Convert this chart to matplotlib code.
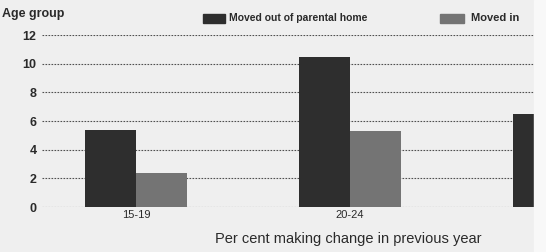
import matplotlib.pyplot as plt
import numpy as np
from matplotlib.patches import Rectangle

# values (right side is cut off in the original)
age_groups = ["15-19", "20-24", "25-29"]
moved_out = [5.4, 10.5, 6.5]
moved_in = [2.4, 5.3, np.nan]
y_ticks = [0, 2, 4, 6, 8, 10, 12]

dark = "#2e2e2e"
light = "#747474"
bg = "#efefef"
txt = "#2a2a2a"

plt.rcParams["font.family"] = ["Liberation Sans", "DejaVu Sans"]

fig = plt.figure(figsize=(5.46, 2.52), dpi=100, facecolor=bg)
ax = fig.add_axes([42 / 546, 45 / 252, 492 / 546, 172 / 252])
ax.set_facecolor(bg)

x = np.arange(len(age_groups))
w = 0.24
ax.bar(x - w / 2, moved_out, w, color=dark, zorder=3)
ax.bar(x + w / 2, moved_in, w, color=light, zorder=3)

ax.set_xticks(x)
ax.set_xticklabels(age_groups, fontsize=8, color=txt)
ax.set_yticks(y_ticks)
ax.set_yticklabels([str(v) for v in y_ticks], fontsize=9, fontweight="bold", color=txt)
# limits after the ticks, so the ticks don't widen the view
ax.set_xlim(-0.44, 1.86)
ax.set_ylim(0, 12)
ax.tick_params(length=0, pad=4)
ax.tick_params(axis="x", pad=2)
for s in ax.spines.values():
    s.set_visible(False)
ax.grid(axis="y", linestyle=(0, (1.5, 1.2)), color="#505050", linewidth=0.8, zorder=1)

fig.text(2 / 546, 1 - 14 / 252, "Age group", fontsize=9, fontweight="bold",
         color=txt, va="center", ha="left")
fig.text(348 / 546, 1 - 239 / 252, "Per cent making change in previous year",
         fontsize=10.5, color=txt, va="center", ha="center")

# legend drawn by hand along the top
fig.patches.append(Rectangle((203 / 546, 1 - 23 / 252), 22 / 546, 9 / 252,
                             transform=fig.transFigure, color=dark))
fig.text(229 / 546, 1 - 18 / 252, "Moved out of parental home", fontsize=7.5,
         fontweight="bold", color=txt, va="center")
fig.patches.append(Rectangle((440 / 546, 1 - 23 / 252), 24 / 546, 9 / 252,
                             transform=fig.transFigure, color=light))
fig.text(471 / 546, 1 - 18 / 252, "Moved in", fontsize=8,
         fontweight="bold", color=txt, va="center")

# the scan is cut off on the right
fig.patches.append(Rectangle((534 / 546, 0), 12 / 546, 1, transform=fig.transFigure,
                             color="#f8f8f8", zorder=10))

fig.savefig("out.png", dpi=100, facecolor=bg)
